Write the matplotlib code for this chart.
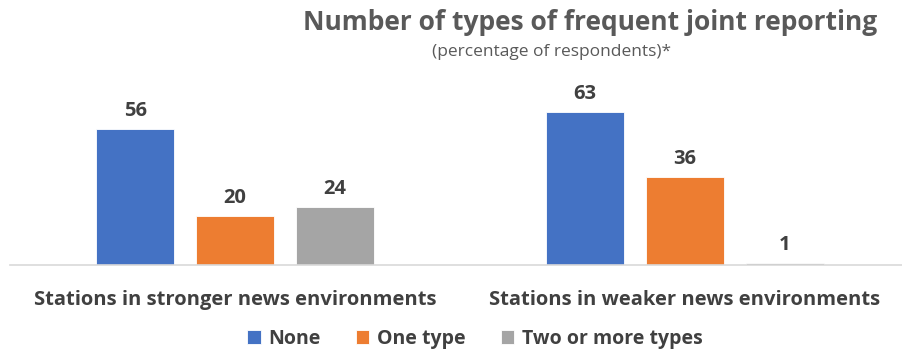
import matplotlib
matplotlib.use("Agg")
import numpy as np
import matplotlib.pyplot as plt

plt.rcParams['font.family'] = ['Open Sans', 'DejaVu Sans']

groups = ['Stations in stronger news environments',
          'Stations in weaker news environments']
series = ['None', 'One type', 'Two or more types']
none_vals = [56, 63]
one_vals = [20, 36]
two_vals = [24, 1]
colors = ['#4472c4', '#ed7d31', '#a5a5a5']

text_col = '#404040'

fig = plt.figure(figsize=(9.03, 3.51), dpi=100)
W, H = 903.0, 351.0
# axes spans x 10..903 px, y 80..265 px
ax = fig.add_axes([10 / W, 1 - 265 / H, 893 / W, 185 / H])

x = np.arange(len(groups))
width = 0.175
step = 0.222
for i, (vals, col, name) in enumerate(zip([none_vals, one_vals, two_vals], colors, series)):
    pos = x + (i - 1) * step
    bars = ax.bar(pos, vals, width, color=col, label=name, edgecolor='white', linewidth=0.6)
    for b, v in zip(bars, vals):
        ax.text(b.get_x() + b.get_width() / 2, v + 3.3, str(v), ha='center', va='bottom',
                fontsize=14.5, fontweight='bold', color=text_col)

ax.set_xlim(-0.5, -0.5 + 893 / 450)
ax.set_ylim(0, 76)
for s in ['top', 'right', 'left']:
    ax.spines[s].set_visible(False)
ax.spines['bottom'].set_color('#d9d9d9')
ax.spines['bottom'].set_linewidth(1.2)
ax.set_yticks([])
ax.set_xticks(x)
ax.set_xticklabels(groups, fontsize=14.5, fontweight='bold', color=text_col)
ax.tick_params(axis='x', length=0, pad=18)

fig.text(590 / W, 1 - 23 / H, 'Number of types of frequent joint reporting', ha='center', va='center',
         fontsize=19, fontweight='bold', color='#595959')
fig.text(552 / W, 1 - 52 / H, '(percentage of respondents)*', ha='center', va='center',
         fontsize=12.5, color='#595959')

leg = fig.legend(loc='center', bbox_to_anchor=(475 / W, 1 - 339 / H), ncol=3, frameon=False,
                 fontsize=14, handlelength=0.7, handleheight=0.7, handletextpad=0.4, columnspacing=1.8)
for t in leg.get_texts():
    t.set_color(text_col)
    t.set_fontweight('bold')

fig.savefig('out.png', dpi=100)
